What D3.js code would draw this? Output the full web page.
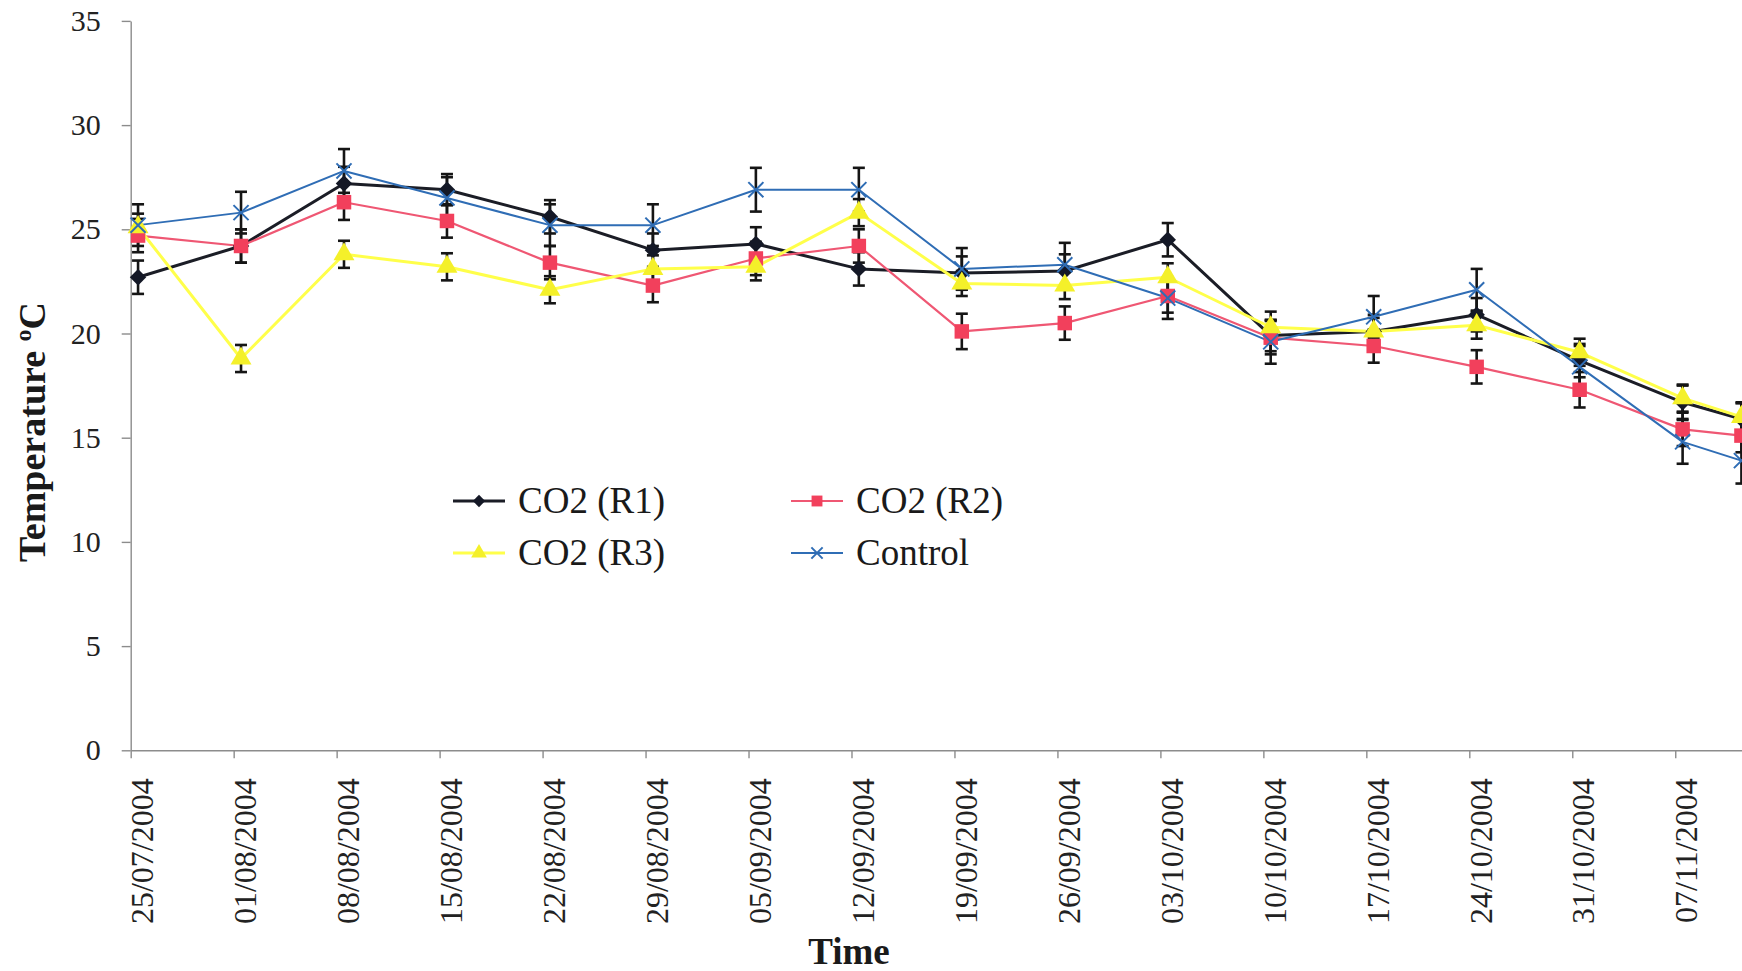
<!DOCTYPE html>
<meta charset="utf-8">

<style>

body {
  margin: 0;
  background: #fff;
}

svg {
  display: block;
  font-family: "Liberation Serif", "Times New Roman", serif;
}

.axis path,
.axis line {
  stroke: #8c8c8c;
  stroke-width: 1.4;
}

.axis text {
  fill: #222;
}

.err {
  stroke: #151515;
  stroke-width: 2.6;
}

</style>

<svg width="1742" height="971"></svg>
<script src="https://cdn.jsdelivr.net/npm/d3@7"></script>

<script>

// sampling dates (the last one is mid-week)
var dates = ["25/07/2004", "01/08/2004", "08/08/2004", "15/08/2004", "22/08/2004", "29/08/2004",
  "05/09/2004", "12/09/2004", "19/09/2004", "26/09/2004", "03/10/2004", "10/10/2004",
  "17/10/2004", "24/10/2004", "31/10/2004", "07/11/2004", "11/11/2004"];

// weekly axis ticks
var tickLabels = ["25/07/2004", "01/08/2004", "08/08/2004", "15/08/2004", "22/08/2004", "29/08/2004",
  "05/09/2004", "12/09/2004", "19/09/2004", "26/09/2004", "03/10/2004", "10/10/2004",
  "17/10/2004", "24/10/2004", "31/10/2004", "07/11/2004"];

var yTicks = [0, 5, 10, 15, 20, 25, 30, 35];

var seriesNames = ["CO2 (R1)", "CO2 (R2)", "CO2 (R3)", "Control"];

var r1 = [22.7, 24.2, 27.2, 26.9, 25.6, 24.0, 24.3, 23.1, 22.9, 23.0, 24.5, 19.9, 20.1, 20.9, 18.7, 16.7, 15.9];
var r2 = [24.7, 24.2, 26.3, 25.4, 23.4, 22.3, 23.6, 24.2, 20.1, 20.5, 21.8, 19.8, 19.4, 18.4, 17.3, 15.4, 15.1];
var r3 = [25.1, 18.8, 23.8, 23.2, 22.1, 23.1, 23.2, 25.8, 22.4, 22.3, 22.7, 20.3, 20.1, 20.4, 19.1, 16.9, 16.0];
var control = [25.2, 25.8, 27.8, 26.5, 25.2, 25.2, 26.9, 26.9, 23.1, 23.3, 21.7, 19.6, 20.8, 22.1, 18.4, 14.8, 13.9];

var r1Err = [0.8, 0.8, 0.8, 0.75, 0.8, 0.8, 0.8, 0.8, 0.8, 0.8, 0.8, 0.75, 0.8, 0.8, 0.8, 0.8, 0.8];
var r2Err = [0.8, 0.8, 0.85, 0.8, 0.8, 0.8, 0.8, 0.8, 0.85, 0.8, 0.8, 0.8, 0.8, 0.8, 0.85, 0.8, 0.8];
var r3Err = [0.65, 0.65, 0.65, 0.65, 0.65, 0.65, 0.65, 0.65, 0.6, 0.65, 0.67, 0.75, 0.65, 0.65, 0.65, 0.65, 0.65];
var controlErr = [1.0, 1.0, 1.05, 1.0, 1.0, 1.0, 1.05, 1.05, 1.0, 1.05, 1.0, 1.05, 1.0, 1.0, 1.0, 1.05, 1.1];

var svg = d3.select("svg"),
    width = +svg.attr("width"),
    height = +svg.attr("height");

var parse = d3.utcParse("%d/%m/%Y");

var x0 = 130.7, pxPerDay = 14.71;
var start = parse(tickLabels[0]),
    end = parse("18/11/2004");

var x = d3.scaleUtc()
    .domain([start, end])
    .range([x0, x0 + d3.utcDay.count(start, end) * pxPerDay]);

var y = d3.scaleLinear()
    .domain([0, 35])
    .range([750.3, 20.9]);

// points sit at midday of each sampling date
var when = dates.map(function(d) { return d3.utcHour.offset(parse(d), 12); });

var series = [
  { name: seriesNames[0], values: r1, err: r1Err, line: "#1b1d26", fill: "#141826", lw: 3, sym: "diamond" },
  { name: seriesNames[1], values: r2, err: r2Err, line: "#ef5773", fill: "#f2405c", lw: 2.2, sym: "square" },
  { name: seriesNames[2], values: r3, err: r3Err, line: "#ffff4a", fill: "#f4f02a", lw: 3, sym: "triangle" },
  { name: seriesNames[3], values: control, err: controlErr, line: "#2f6db5", fill: "none", lw: 2, sym: "x" }
];

function symbolPath(sym, big) {
  var k = big ? 1 : 0.75;
  if (sym == "diamond") return d3.symbol(d3.symbolSquare, 135 * k * k)();
  if (sym == "square") return d3.symbol(d3.symbolSquare, 210 * k * k)();
  if (sym == "triangle") return d3.symbol(d3.symbolTriangle, 190 * k * k)();
  return d3.symbol(d3.symbolX, 150 * k * k)();
}

function drawMarker(sel, s, big) {
  sel.append("path")
    .attr("d", symbolPath(s.sym, big))
    .attr("transform", s.sym == "diamond" ? "rotate(45)" : null)
    .attr("fill", s.fill)
    .attr("stroke", s.sym == "x" ? s.line : "none")
    .attr("stroke-width", 2);
}

// axes
var xAxis = svg.append("g")
    .attr("class", "axis")
    .attr("transform", "translate(0," + y(0) + ")")
    .call(d3.axisBottom(x)
      .tickValues(tickLabels.map(parse))
      .tickSize(8)
      .tickSizeOuter(0)
      .tickFormat(d3.utcFormat("%d/%m/%Y")))
    .attr("font-family", null)
    .attr("font-size", null);

xAxis.selectAll("text")
    .attr("transform", "rotate(-90)")
    .attr("text-anchor", "end")
    .attr("x", -28)
    .attr("y", 10.5)
    .attr("dy", "0.35em")
    .attr("font-size", "32px");

var yAxis = svg.append("g")
    .attr("class", "axis")
    .attr("transform", "translate(" + x0 + ",0)")
    .call(d3.axisLeft(y)
      .tickValues(yTicks)
      .tickSize(9)
      .tickSizeOuter(0)
      .tickPadding(21))
    .attr("font-family", null)
    .attr("font-size", null);

yAxis.selectAll("text")
    .attr("font-size", "30px");

// error bars
var bars = svg.append("g");
series.forEach(function(s) {
  var g = bars.selectAll(null)
    .data(s.values)
    .enter().append("g")
    .attr("class", "err")
    .attr("transform", function(d, i) { return "translate(" + x(when[i]) + ",0)"; });
  g.append("line")
    .attr("y1", function(d, i) { return y(d - s.err[i]); })
    .attr("y2", function(d, i) { return y(d + s.err[i]); });
  g.append("line")
    .attr("x1", -6).attr("x2", 6)
    .attr("y1", function(d, i) { return y(d + s.err[i]); })
    .attr("y2", function(d, i) { return y(d + s.err[i]); });
  g.append("line")
    .attr("x1", -6).attr("x2", 6)
    .attr("y1", function(d, i) { return y(d - s.err[i]); })
    .attr("y2", function(d, i) { return y(d - s.err[i]); });
});

// lines
var line = d3.line()
    .x(function(d, i) { return x(when[i]); })
    .y(function(d) { return y(d); });

series.forEach(function(s) {
  svg.append("path")
    .datum(s.values)
    .attr("fill", "none")
    .attr("stroke", s.line)
    .attr("stroke-width", s.lw)
    .attr("stroke-linejoin", "round")
    .attr("d", line);
});

// markers
series.forEach(function(s) {
  svg.append("g")
    .selectAll("g")
    .data(s.values)
    .enter().append("g")
    .attr("transform", function(d, i) { return "translate(" + x(when[i]) + "," + y(d) + ")"; })
    .each(function() { drawMarker(d3.select(this), s, true); });
});

// legend
var legend = svg.append("g")
    .attr("transform", "translate(453,501)");

var item = legend.selectAll("g")
    .data(series)
    .enter().append("g")
    .attr("transform", function(d, i) { return "translate(" + (i % 2) * 338 + "," + Math.floor(i / 2) * 52 + ")"; });

item.append("line")
    .attr("x1", 0).attr("x2", 52)
    .attr("stroke", function(d) { return d.line; })
    .attr("stroke-width", function(d) { return d.lw; });

item.append("g")
    .attr("transform", "translate(26,0)")
    .each(function(d) { drawMarker(d3.select(this), d, false); });

item.append("text")
    .attr("x", 65)
    .attr("dy", "0.33em")
    .attr("font-size", "37px")
    .attr("fill", "#1a1a1a")
    .text(function(d) { return d.name; });

// axis titles
var yTitle = svg.append("text")
    .attr("transform", "translate(45,432) rotate(-90)")
    .attr("text-anchor", "middle")
    .attr("font-size", "38px")
    .attr("font-weight", "bold")
    .attr("fill", "#1a1a1a");
yTitle.append("tspan").text("Temperature ");
yTitle.append("tspan").attr("font-size", "24px").attr("dy", "-14").text("o");
yTitle.append("tspan").attr("dy", "14").text("C");

svg.append("text")
    .attr("x", 849)
    .attr("y", 964)
    .attr("text-anchor", "middle")
    .attr("font-size", "37px")
    .attr("font-weight", "bold")
    .attr("fill", "#1a1a1a")
    .text("Time");

</script>
